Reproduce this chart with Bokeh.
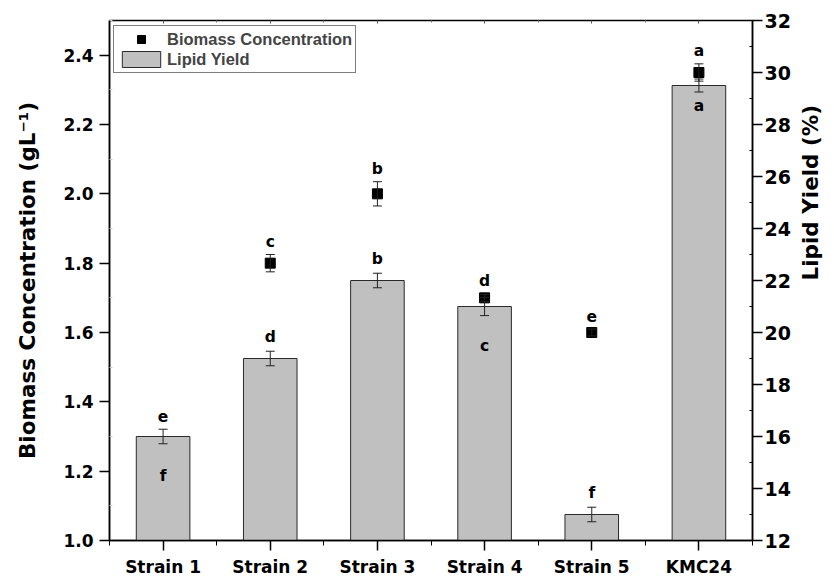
import math
from bokeh.plotting import figure
from bokeh.models import (Range1d, LinearAxis, FixedTicker, Whisker, ColumnDataSource,
                          Legend, LegendItem, TeeHead, PrintfTickFormatter)
from bokeh.core.properties import value
from bokeh.embed import file_html
from bokeh.resources import INLINE

# ---- data -------------------------------------------------------------
categories = ["Strain 1", "Strain 2", "Strain 3", "Strain 4", "Strain 5", "KMC24"]
biomass = [1.27, 1.80, 2.00, 1.70, 1.60, 2.35]          # g/L
biomass_err = [0.02, 0.025, 0.035, 0.01, 0.01, 0.025]
biomass_letters = ["e", "c", "b", "d", "e", "a"]
lipid = [16.0, 19.0, 22.0, 21.0, 13.0, 29.5]            # %
lipid_err = [0.28, 0.28, 0.28, 0.35, 0.28, 0.25]
lipid_letters = ["f", "d", "b", "c", "f", "a"]
biomass_ticks = [1.0, 1.2, 1.4, 1.6, 1.8, 2.0, 2.2, 2.4]
lipid_ticks = [12, 14, 16, 18, 20, 22, 24, 26, 28, 30, 32]

# ---- layout settings ---------------------------------------------------
TICK_FONT = "DejaVu Sans"
LEGEND_FONT = "Liberation Sans"
B_RANGE = (1.0, 2.5)
L_RANGE = (12, 32)
lipid_letter_dy = [39, -22, -22, 39, -22, 20]   # px from bar top (down +)

xs = list(range(1, len(categories) + 1))


def lipid_to_biomass_axis(v):
    """Express a lipid value in biomass-axis units (both axes share the frame)."""
    return B_RANGE[0] + (v - L_RANGE[0]) * (B_RANGE[1] - B_RANGE[0]) / (L_RANGE[1] - L_RANGE[0])


b_hi = [v + e for v, e in zip(biomass, biomass_err)]
l_hi = [v + e for v, e in zip(lipid, lipid_err)]
# biomass letters sit above whichever error bar is highest at that strain
b_label_y = [max(b, lipid_to_biomass_axis(l)) for b, l in zip(b_hi, l_hi)]

src = ColumnDataSource(dict(
    x=xs,
    biomass=biomass,
    b_lo=[v - e for v, e in zip(biomass, biomass_err)],
    b_hi=b_hi,
    b_lab=b_label_y,
    b_txt=biomass_letters,
    lipid=lipid,
    l_lo=[v - e for v, e in zip(lipid, lipid_err)],
    l_hi=l_hi,
    l_txt=lipid_letters,
    l_dy=lipid_letter_dy,
))

p = figure(frame_width=643, frame_height=520,
           x_range=Range1d(0.5, len(categories) + 0.5),
           y_range=Range1d(*B_RANGE),
           output_backend="svg", toolbar_location=None,
           min_border_left=109, min_border_right=82,
           min_border_top=20, min_border_bottom=38,
           background_fill_color="white", border_fill_color="white")
p.extra_y_ranges = {"lipid": Range1d(*L_RANGE)}
p.xgrid.visible = False
p.ygrid.visible = False
p.outline_line_color = "black"
p.outline_line_width = 1.5

# ---- axes ---------------------------------------------------------------
def style_axis(ax, size="17px"):
    ax.axis_line_width = 1.5
    ax.axis_line_color = "black"
    ax.major_tick_line_color = "black"
    ax.major_tick_line_width = 1.5
    ax.major_tick_out = 10
    ax.major_tick_in = 0
    ax.minor_tick_line_color = "black"
    ax.minor_tick_line_width = 1
    ax.major_label_text_font = TICK_FONT
    ax.major_label_text_font_style = "bold"
    ax.major_label_text_font_size = size
    ax.major_label_text_color = "black"
    ax.axis_label_text_font = TICK_FONT
    ax.axis_label_text_font_style = "bold"
    ax.axis_label_text_font_size = "21.5px"
    ax.axis_label_text_color = "black"

xaxis = p.xaxis[0]
style_axis(xaxis)
xaxis.ticker = FixedTicker(ticks=xs, minor_ticks=[x - 0.5 for x in xs] + [xs[-1] + 0.5])
xaxis.major_label_overrides = {x: c for x, c in zip(xs, categories)}
xaxis.minor_tick_out = 5
xaxis.minor_tick_in = 0
xaxis.major_label_standoff = 6

yaxis = p.yaxis[0]
style_axis(yaxis)
yaxis.ticker = FixedTicker(ticks=biomass_ticks,
                           minor_ticks=[round(t + 0.1, 1) for t in biomass_ticks])
yaxis.formatter = PrintfTickFormatter(format="%.1f")
yaxis.minor_tick_in = 3
yaxis.minor_tick_out = 0
yaxis.minor_tick_line_color = "#c8c8c8"
yaxis.major_label_standoff = 6
yaxis.axis_label = "Biomass Concentration (gL\u207b\u00b9)"
yaxis.axis_label_standoff = 20

raxis = LinearAxis(y_range_name="lipid", axis_label="Lipid Yield (%)")
style_axis(raxis, size="19px")
raxis.ticker = FixedTicker(ticks=lipid_ticks, minor_ticks=[t + 1 for t in lipid_ticks[:-1]])
raxis.minor_tick_in = 3
raxis.minor_tick_out = 0
raxis.major_label_standoff = 2
raxis.axis_label_standoff = 17
raxis.axis_label_orientation = math.pi / 2
p.add_layout(raxis, "right")

# faint inner ticks along the top edge of the frame
taxis = LinearAxis(axis_line_color=None, major_label_standoff=0)
taxis.ticker = FixedTicker(ticks=xs, minor_ticks=[x - 0.5 for x in xs])
taxis.major_label_overrides = {x: "" for x in xs}
taxis.major_tick_in = 3
taxis.major_tick_out = 0
taxis.minor_tick_in = 2
taxis.minor_tick_out = 0
taxis.major_tick_line_color = "#555555"
taxis.minor_tick_line_color = "#777777"
p.add_layout(taxis, "above")

# ---- biomass markers (sit beneath the bars) -----------------------------
p.add_layout(Whisker(source=src, base="x", lower="b_lo", upper="b_hi",
                     line_color="#222222", line_width=1, level="underlay",
                     lower_head=TeeHead(size=9, line_color="#222222", line_width=1),
                     upper_head=TeeHead(size=9, line_color="#222222", line_width=1)))
sq = p.scatter(x="x", y="biomass", source=src, marker="square", size=10,
               fill_color="black", line_color="black", level="underlay")

# ---- lipid bars ---------------------------------------------------------
bars = p.vbar(x="x", top="lipid", bottom=L_RANGE[0], width=0.5, source=src,
              y_range_name="lipid", fill_color="#c0c0c0",
              line_color="#2a2a2a", line_width=1)
p.add_layout(Whisker(source=src, base="x", lower="l_lo", upper="l_hi",
                     y_range_name="lipid", line_color="#222222", line_width=1,
                     level="overlay",
                     lower_head=TeeHead(size=9, line_color="#222222", line_width=1),
                     upper_head=TeeHead(size=9, line_color="#222222", line_width=1)))

# ---- significance letters ----------------------------------------------
p.text(x="x", y="b_lab", text="b_txt", source=src, y_offset=-13,
       text_font=value(TICK_FONT), text_font_style="bold", text_font_size="15.5px",
       text_align="center", text_baseline="middle", text_color="black")
p.text(x="x", y="lipid", text="l_txt", source=src, y_offset="l_dy",
       y_range_name="lipid",
       text_font=value(TICK_FONT), text_font_style="bold", text_font_size="15.5px",
       text_align="center", text_baseline="middle", text_color="black")

# ---- legend -------------------------------------------------------------
legend = Legend(items=[LegendItem(label="Biomass Concentration", renderers=[sq]),
                       LegendItem(label="Lipid Yield", renderers=[bars])],
                location=(4, 467), margin=0, padding=3, spacing=0,
                glyph_width=48, glyph_height=20, label_standoff=2,
                label_text_font=LEGEND_FONT, label_text_font_style="bold",
                label_text_font_size="16.5px", label_height=20,
                border_line_color="black", border_line_width=1,
                background_fill_color="white", background_fill_alpha=1)
p.add_layout(legend)

open("out.html", "w").write(file_html(p, INLINE))
